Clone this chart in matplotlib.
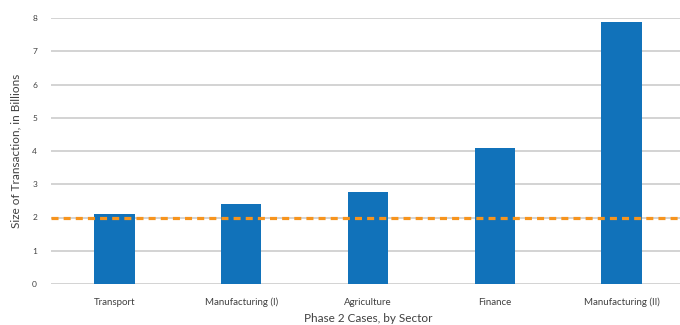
import matplotlib.pyplot as plt

# data
sectors = ["Transport", "Manufacturing (I)", "Agriculture", "Finance", "Manufacturing (II)"]
sizes = [2.12, 2.41, 2.77, 4.09, 7.88]
threshold = 2.0
yticks = [0, 1, 2, 3, 4, 5, 6, 7, 8]

plt.rcParams["font.family"] = ["Lato", "DejaVu Sans"]
txt = "#404040"

fig = plt.figure(figsize=(6.8, 3.25), dpi=100)
ax = fig.add_axes([51 / 680, 41 / 325, 634 / 680, 266 / 325])

x = list(range(len(sectors)))
ax.bar(x, sizes, width=0.32, color="#1172BA", zorder=2)
ax.axhline(threshold, color="#F7941D", lw=2.3, dashes=(2.2, 1.6), zorder=3)

ax.set_xlim(-0.5, len(sectors) - 0.5)
ax.set_ylim(0, 8)
ax.set_yticks(yticks)
ax.set_xticks(x)
ax.set_xticklabels(sectors, fontsize=7, color=txt)
ax.tick_params(axis="y", labelsize=6, colors=txt, length=0, pad=10)
ax.tick_params(axis="x", length=0, pad=10)
ax.grid(axis="y", color="#D0D0D0", lw=1.3, zorder=0)
for s in ax.spines.values():
    s.set_visible(False)

ax.set_xlabel("Phase 2 Cases, by Sector", fontsize=8.5, color=txt, labelpad=4)
ax.set_ylabel("Size of Transaction, in Billions", fontsize=8.5, color=txt, labelpad=8)

fig.savefig("out.png", dpi=100)
